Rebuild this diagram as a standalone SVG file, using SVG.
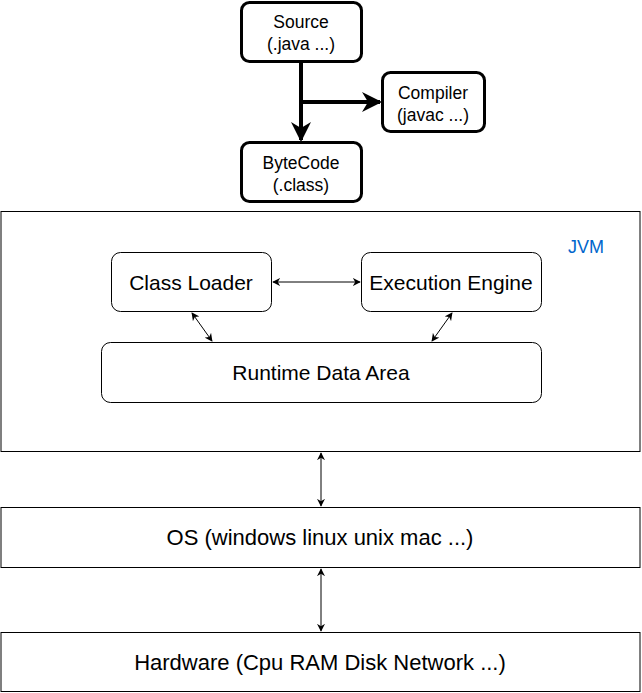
<svg xmlns="http://www.w3.org/2000/svg" width="642" height="693" viewBox="0 0 642 693">
<style>
text{font-family:"Liberation Sans",Arial,Helvetica,sans-serif;fill:#000;text-anchor:middle}
.thick{fill:#fff;stroke:#000;stroke-width:3}
.thin{fill:#fff;stroke:#000;stroke-width:1}
.s14{font-size:17.5px}
.s16{font-size:21px}
.s22{font-size:22px}
.c{fill:none;stroke:#000;stroke-width:1}
.ct{fill:none;stroke:#000;stroke-width:4}
</style>
<defs>
<marker id="a" viewBox="0 0 10 10" refX="9" refY="5" markerWidth="8" markerHeight="8" markerUnits="userSpaceOnUse" orient="auto-start-reverse"><path d="M0,0 L10,5 L0,10 L3,5 z" fill="#000"/></marker>
<marker id="at" viewBox="0 0 10 10" refX="9" refY="5" markerWidth="5" markerHeight="5" orient="auto"><path d="M0,0 L10,5 L0,10 L3,5 z" fill="#000"/></marker>
</defs>
<g id="jvm"><rect class="thin" x="1" y="211.5" width="639" height="240"/><text x="586" y="253" style="font-size:18px;fill:#0066CC">JVM</text></g>
<g id="os"><rect class="thin" x="1" y="507.5" width="639" height="60"/><text class="s22" x="320" y="545">OS (windows linux unix mac ...)</text></g>
<g id="hardware"><rect class="thin" x="1" y="632.5" width="639" height="59"/><text class="s22" x="320" y="670">Hardware (Cpu RAM Disk Network ...)</text></g>
<g id="source"><rect class="thick" x="241.5" y="2.5" width="120" height="59" rx="8"/><text class="s14" x="301" y="28">Source</text><text class="s14" x="301" y="50">(.java ...)</text></g>
<g id="compiler"><rect class="thick" x="382.5" y="72.5" width="102" height="59" rx="8"/><text class="s14" x="433" y="99">Compiler</text><text class="s14" x="433" y="121">(javac ...)</text></g>
<g id="bytecode"><rect class="thick" x="241.5" y="142.5" width="120" height="59" rx="8"/><text class="s14" x="301" y="169">ByteCode</text><text class="s14" x="301" y="191">(.class)</text></g>
<g id="classloader"><rect class="thin" x="111.5" y="252.5" width="160" height="59" rx="9"/><text class="s16" x="191" y="290">Class Loader</text></g>
<g id="engine"><rect class="thin" x="361.5" y="252.5" width="180" height="59" rx="9"/><text class="s16" x="451" y="290">Execution Engine</text></g>
<g id="runtime"><rect class="thin" x="101.5" y="342.5" width="440" height="60" rx="9"/><text class="s16" x="321" y="380">Runtime Data Area</text></g>
<g id="connectors">
<path class="ct" d="M301,62 V140" marker-end="url(#at)"/>
<path class="ct" d="M301,102 H380" marker-end="url(#at)"/>
<path class="c" d="M273,282 H360" marker-start="url(#a)" marker-end="url(#a)"/>
<path class="c" d="M192,313 L212,341" marker-start="url(#a)" marker-end="url(#a)"/>
<path class="c" d="M452,313 L432,341" marker-start="url(#a)" marker-end="url(#a)"/>
<path class="c" d="M321,453 V506" marker-start="url(#a)" marker-end="url(#a)"/>
<path class="c" d="M321,569 V631" marker-start="url(#a)" marker-end="url(#a)"/>
</g>
</svg>
